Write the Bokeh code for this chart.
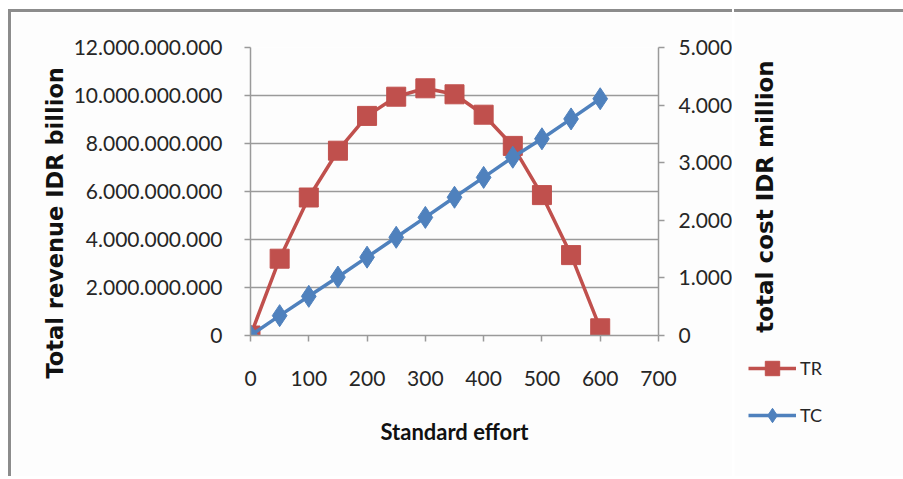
import math
from bokeh.plotting import figure
from bokeh.models import (Range1d, LinearAxis, FixedTicker, Legend, LegendItem, Label, Title)
from bokeh.embed import file_html
from bokeh.resources import INLINE

# ---- data ----
effort = [0, 50, 100, 150, 200, 250, 300, 350, 400, 450, 500, 550, 600]
tr = [0.0e9, 3.2e9, 5.75e9, 7.7e9, 9.15e9, 9.95e9, 10.3e9, 10.05e9,
      9.2e9, 7.9e9, 5.85e9, 3.35e9, 0.3e9]
tc = [0, 345, 680, 1015, 1360, 1705, 2050, 2400, 2745, 3095, 3415, 3760, 4110]

x_ticks = [0, 100, 200, 300, 400, 500, 600, 700]
left_ticks = [0, 2e9, 4e9, 6e9, 8e9, 10e9, 12e9]
left_tick_labels = ["0", "2.000.000.000", "4.000.000.000", "6.000.000.000",
                    "8.000.000.000", "10.000.000.000", "12.000.000.000"]
right_ticks = [0, 1000, 2000, 3000, 4000, 5000]
right_tick_labels = ["0", "1.000", "2.000", "3.000", "4.000", "5.000"]

series_names = ["TR", "TC"]
x_title = "Standard effort"
left_title = "Total revenue IDR billion"
right_title = "total cost IDR million"

# ---- style ----
RED = "#C0504D"
BLUE = "#4F81BD"
GRID = "#9a9a9a"
BG = "#fdfdfd"
FONT = "Lato"
WIDE = "DejaVu Sans"

PAGE_W, PAGE_H = 903, 479
OX, OY = 11, 12                     # page offset (margin + border)
SPLIT = 735                          # page x where the main figure ends
P2_LEFT = SPLIT - 1                  # side figure overlaps by 1px (no border gap)
W1, H = SPLIT - OX, PAGE_H - OY
W2 = PAGE_W - P2_LEFT
FL, FT, FR, FB = 250 - OX, 47 - OY, 660 - OX, 335 - OY   # frame edges

p = figure(width=W1, height=H, output_backend="svg", toolbar_location=None, title=None,
           x_range=Range1d(0, 700), y_range=Range1d(0, 12e9),
           min_border_left=FL, min_border_right=W1 - FR,
           min_border_top=FT, min_border_bottom=H - FB)
p.styles = {"margin-left": "8px", "margin-top": "9px",
            "border-top": "3px solid #8c8c8c", "border-left": "3px solid #8c8c8c"}
p.extra_y_ranges = {"tc": Range1d(0, 5000)}
p.background_fill_color = BG
p.border_fill_color = BG
p.outline_line_color = None


def style_axis(ax, fs):
    ax.axis_line_color = GRID
    ax.axis_line_width = 1.5
    ax.major_tick_line_color = GRID
    ax.major_tick_line_width = 1.5
    ax.major_tick_out = 6
    ax.major_tick_in = 0
    ax.minor_tick_line_color = None
    ax.major_label_text_font = FONT
    ax.major_label_text_font_size = fs
    ax.major_label_text_color = "#262626"


xa = p.xaxis[0]
style_axis(xa, "21px")
xa.ticker = FixedTicker(ticks=x_ticks)
xa.major_label_standoff = 29
xa.axis_label = x_title
xa.axis_label_text_font = FONT
xa.axis_label_text_font_style = "bold"
xa.axis_label_text_font_size = "22px"
xa.axis_label_text_color = "#111111"
xa.axis_label_standoff = 29

ya = p.yaxis[0]
style_axis(ya, "21px")
ya.ticker = FixedTicker(ticks=left_ticks)
ya.major_label_overrides = {float(t): l for t, l in zip(left_ticks, left_tick_labels)}
ya.major_label_standoff = 22

ra = LinearAxis(y_range_name="tc", ticker=FixedTicker(ticks=right_ticks))
style_axis(ra, "21px")
ra.major_label_overrides = {float(t): l for t, l in zip(right_ticks, right_tick_labels)}
ra.major_label_standoff = 14
p.add_layout(ra, "right")

p.xgrid.grid_line_color = None
p.ygrid.grid_line_color = GRID
p.ygrid.grid_line_width = 1.5
p.ygrid.ticker = FixedTicker(ticks=left_ticks)

# series
line_kw = dict(line_width=3.5)
sq_kw = dict(marker="square", size=19, fill_color=RED, line_color=RED)
dm_kw = dict(marker="diamond", size=22, fill_color=BLUE, line_color=BLUE)

p.line(effort, tr, line_color=RED, **line_kw)
p.scatter(effort, tr, **sq_kw)
p.line(effort, tc, line_color=BLUE, y_range_name="tc", **line_kw)
p.scatter(effort, tc, y_range_name="tc", **dm_kw)

# left axis title
p.add_layout(Title(text=left_title, align="left", offset=-43,
                   text_font=WIDE, text_font_style="bold", text_font_size="22.5px",
                   text_color="#111111", standoff=6), "left")

# ---- side figure (own root, placed at the right): right-axis title and legend ----
# its ranges lie outside the data, so the series drawn here only act as legend keys
p2 = figure(width=W2, height=H, output_backend="svg", toolbar_location=None, title=None,
            x_range=Range1d(-2, -1), y_range=Range1d(-2, -1),
            x_axis_type=None, y_axis_type=None, min_border=0)
p2.styles = {"position": "absolute", "left": f"{P2_LEFT}px", "top": "0px",
             "margin-top": "9px", "border-top": "3px solid #8c8c8c"}
p2.background_fill_color = BG
p2.border_fill_color = BG
p2.outline_line_color = None
p2.grid.grid_line_color = None

k_tr_l = p2.line(effort, tr, line_color=RED, **line_kw)
k_tr_s = p2.scatter(effort, tr, **sq_kw)
k_tc_l = p2.line(effort, tc, line_color=BLUE, **line_kw)
k_tc_s = p2.scatter(effort, tc, **dm_kw)

legend = Legend(items=[LegendItem(label=series_names[0], renderers=[k_tr_l, k_tr_s]),
                       LegendItem(label=series_names[1], renderers=[k_tc_l, k_tc_s])],
                location=(748 - P2_LEFT, PAGE_H - 433), orientation="vertical",
                glyph_width=48, glyph_height=36, spacing=11, padding=0, margin=0,
                label_standoff=4, label_text_font=FONT, label_text_font_size="18px",
                label_text_color="#262626",
                background_fill_alpha=0, border_line_color=None)
p2.add_layout(legend, "center")

# frame of p2 covers it entirely: page y 12..479
p2.add_layout(Label(x=764 - P2_LEFT, y=PAGE_H - 196, x_units="screen", y_units="screen",
                    text=right_title, angle=math.pi / 2,
                    text_align="center", text_baseline="middle",
                    text_font=WIDE, text_font_style="bold", text_font_size="23px",
                    text_color="#111111"))

open("out.html", "w").write(file_html([p, p2], INLINE))
